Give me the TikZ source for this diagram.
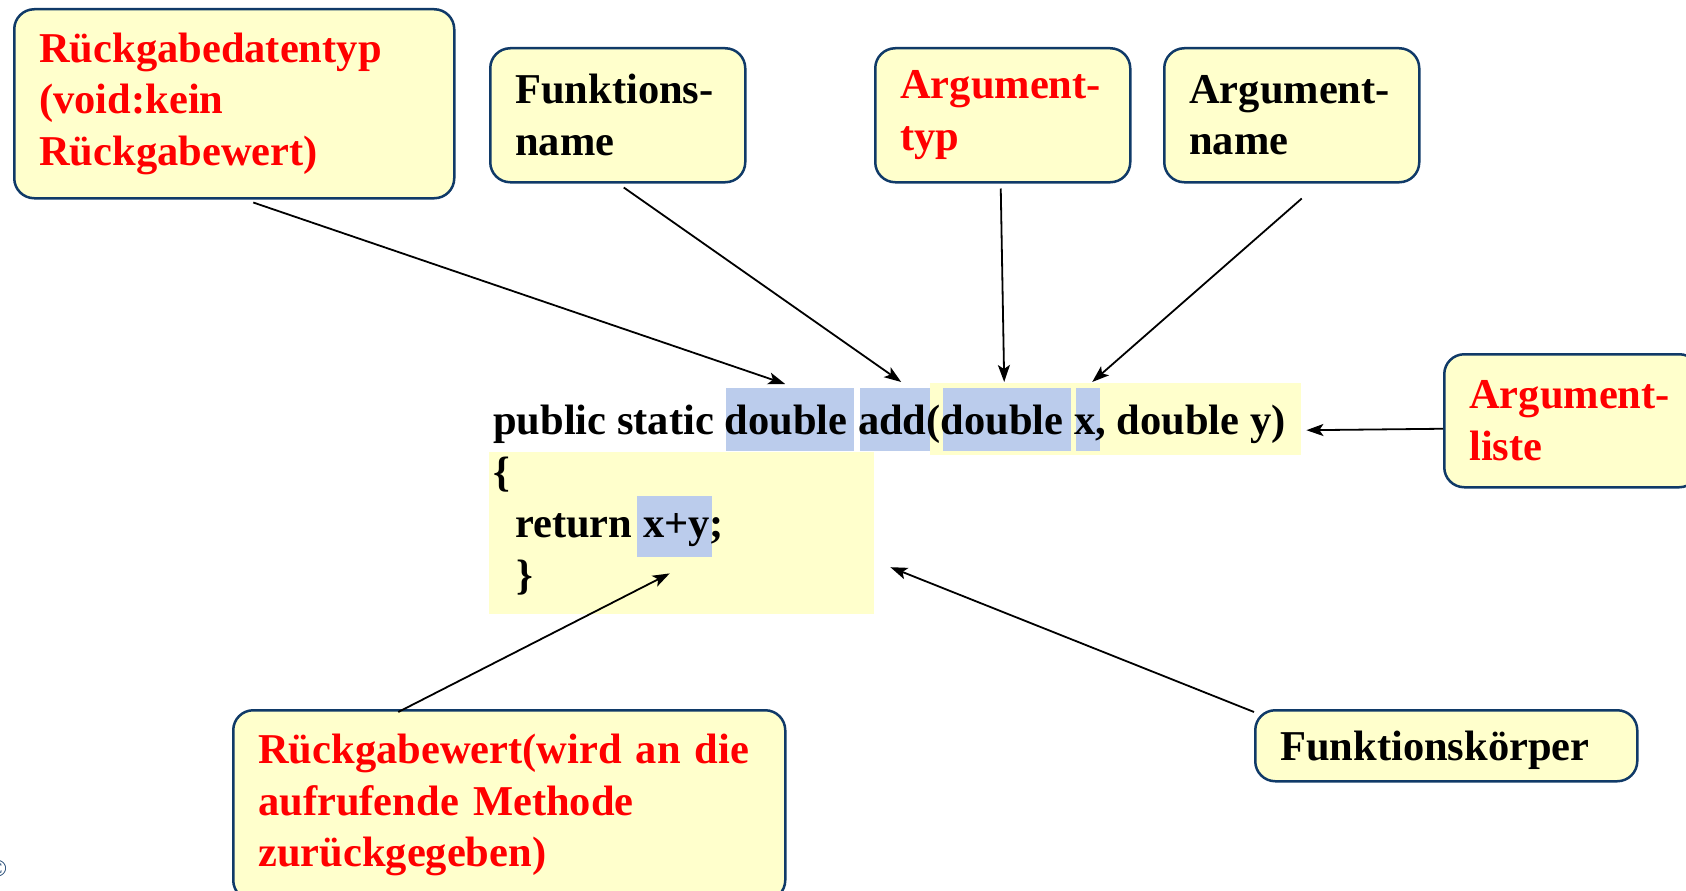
\documentclass[tikz,border=0pt]{standalone}
\usepackage{fontspec}
\setmainfont{Liberation Serif}
\usetikzlibrary{arrows.meta}

\definecolor{boxyellow}{RGB}{255,255,204}
\definecolor{boxblue}{RGB}{16,58,104}
\definecolor{hlblue}{RGB}{187,204,236}
\definecolor{labelred}{RGB}{255,0,0}

\tikzset{
  bigtext/.style={font=\fontsize{42.5}{51.6}\selectfont\bfseries},
  infobox/.style={bigtext, draw=boxblue, line width=2.5pt, fill=boxyellow,
    rounded corners=20pt, anchor=north west, align=left, inner xsep=25pt, inner ysep=0pt},
  codebg/.style={fill=boxyellow, inner sep=0pt, anchor=north west},
  hl/.style={fill=hlblue, inner sep=0pt, anchor=north west},
  code/.style={bigtext, inner sep=0pt, anchor=base west},
  pointer/.style={-{Stealth[length=17pt,width=12pt,inset=4pt]}, line width=1.8pt},
}

\begin{document}
\begin{tikzpicture}[x=1pt,y=-1pt]
\useasboundingbox (0,0) rectangle (1686,891);

% code background
\node[codebg, minimum width=371pt, minimum height=72pt] (arglist) at (930,383) {};
\node[codebg, minimum width=385pt, minimum height=162pt] (body) at (489,452) {};
\node[hl, minimum width=128pt, minimum height=63pt] (rettype) at (726,388) {};
\node[hl, minimum width=70pt, minimum height=63pt] (add) at (860,388) {};
\node[hl, minimum width=128pt, minimum height=63pt] (argtype) at (943,388) {};
\node[hl, minimum width=24pt, minimum height=63pt] (argx) at (1076,388) {};
\node[hl, minimum width=75pt, minimum height=61pt] (xy) at (637,496) {};

% code
\node[code] (line1) at (493,434) {public static double add(double x, double y)};
\node[code] (line2) at (493,486) {\{};
\node[code] (line3) at (515,537) {return x+y;};
\node[code] (line4) at (516,589) {\}};

% labels
\node[infobox, text width=390pt, minimum height=189pt, text=labelred] (rtyp) at (13,8)
  {Rückgabedatentyp\\(void:kein\\Rückgabewert)};
\node[infobox, text width=205pt, minimum height=134pt] (fname) at (489,47)
  {Funktions-\\name};
\node[infobox, text width=205pt, minimum height=134pt, text=labelred] (atyp) at (874,47)
  {Argument-\\typ};
\node[infobox, text width=205pt, minimum height=134pt] (aname) at (1163,47)
  {Argument-\\name};
\node[infobox, text width=205pt, minimum height=133pt, text=labelred] (alist) at (1443,353)
  {Argument-\\liste};
\node[infobox, text width=332pt, minimum height=71pt, text depth=0pt] (fkoerper) at (1254,709)
  {Funktionskörper};
\node[infobox, text width=502pt, minimum height=190pt, text=labelred] (rwert) at (232,709)
  {Rückgabewert(wird an die\\aufrufende Methode\\zurückgegeben)};
\node[text=boxblue, font=\fontsize{24}{24}\selectfont, inner sep=0pt] (copy) at (-2,869) {©};

% pointers
\draw[pointer] ([xshift=19pt,yshift=-3pt]rtyp.south) -- ([xshift=-5pt,yshift=4pt]rettype.north);
\draw[pointer] ([xshift=6pt,yshift=-4pt]fname.south) -- ([xshift=6pt,yshift=6pt]add.north);
\draw[pointer] ([xshift=-2pt,yshift=-5pt]atyp.south) -- ([xshift=-3pt,yshift=6pt]argtype.north);
\draw[pointer] ([xshift=10pt,yshift=-15pt]aname.south) -- ([xshift=4pt,yshift=6pt]argx.north);
\draw[pointer] ([yshift=-8pt]alist.west) -- ([xshift=5pt,yshift=-11pt]arglist.east);
\draw[pointer] ([yshift=-3pt]fkoerper.north west) -- ([xshift=16pt,yshift=-34pt]body.east);
\draw[pointer] ([xshift=-111pt,yshift=-3pt]rwert.north) -- ([xshift=-5pt,yshift=-16pt]xy.south);
\end{tikzpicture}
\end{document}
